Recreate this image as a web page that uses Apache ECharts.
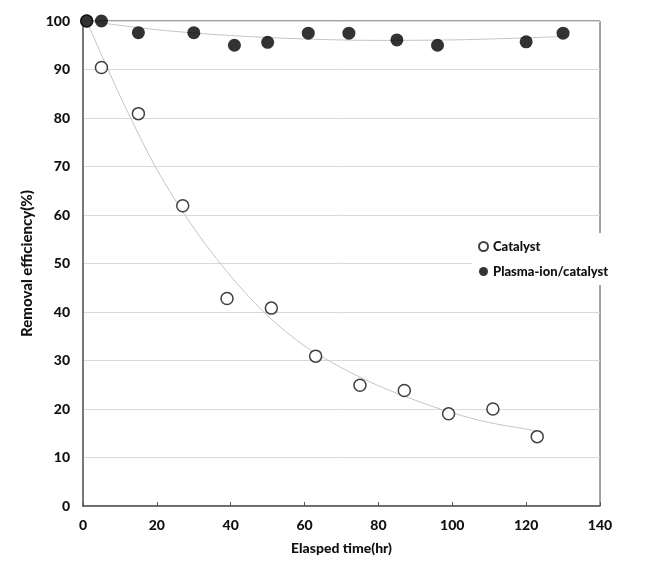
<!DOCTYPE html>
<html>
<head>
<meta charset="utf-8">
<script src="https://cdn.jsdelivr.net/npm/echarts@6/dist/echarts.min.js"></script>
<style>
    html, body { margin: 0; padding: 0; background: #fff; }
    #chart { width: 653px; height: 572px; }
</style>
</head>
<body>
<div id="chart"></div>
<script>
// points
const catalystTime = [1, 5, 15, 27, 39, 51, 63, 75, 87, 99, 111, 123]
const catalystEff = [100, 90.4, 80.9, 61.9, 42.8, 40.8, 30.9, 24.9, 23.8, 19.0, 20.0, 14.3]

const plasmaTime = [1, 5, 15, 30, 41, 50, 61, 72, 85, 96, 120, 130]
const plasmaEff = [100, 100, 97.6, 97.6, 95.0, 95.6, 97.5, 97.5, 96.1, 95.0, 95.7, 97.5]

// grey trend lines, also
const catalystTrendTime = [1, 10, 20, 30, 40, 50, 60, 70, 80, 90, 100, 110, 123]
const catalystTrendEff = [100, 84.6, 69.4, 57.3, 47.4, 39.2, 33, 28.5, 24.8, 21.8, 19.2, 17.2, 15.5]
const plasmaTrendTime = [1, 20, 40, 60, 80, 100, 115, 130]
const plasmaTrendEff = [100, 98.2, 97.0, 96.3, 96.0, 96.1, 96.4, 96.8]

const xTicks = [0, 20, 40, 60, 80, 100, 120, 140]
const yTicks = [0, 10, 20, 30, 40, 50, 60, 70, 80, 90, 100]

function pairs(xs, ys) {
    let out = []
    for (let i = 0; i < xs.length; i++) {
        out.push([xs[i], ys[i]])
    }
    return out
}

const fontName = 'Lato, "Open Sans", sans-serif'

let chart = echarts.init(document.getElementById('chart'))

let option = {
    animation: false,
    backgroundColor: '#fff',
    grid: {
        left: 83,
        right: 53,
        top: 21,
        bottom: 66,
        show: true,
        borderColor: '#444',
        borderWidth: 1
    },
    legend: {
        orient: 'vertical',
        left: 472,
        top: 233,
        padding: [7, 6, 7, 6],
        itemGap: 12,
        itemWidth: 9,
        itemHeight: 9,
        backgroundColor: '#fff',
        icon: 'circle',
        data: ['Catalyst', 'Plasma-ion/catalyst'],
        textStyle: {
            fontFamily: fontName,
            fontWeight: 900,
            fontSize: 13,
            color: '#111'
        }
    },
    xAxis: {
        type: 'value',
        min: xTicks[0],
        max: xTicks[xTicks.length - 1],
        interval: 20,
        name: 'Elasped time(hr)',
        nameLocation: 'middle',
        nameGap: 35,
        nameTextStyle: {
            fontFamily: fontName,
            fontWeight: 900,
            fontSize: 14,
            color: '#111'
        },
        axisLine: { lineStyle: { color: '#555', width: 1.5 } },
        axisTick: { show: true, inside: true, length: 4, lineStyle: { color: '#555' } },
        axisLabel: {
            margin: 12,
            fontFamily: fontName,
            fontWeight: 900,
            fontSize: 14,
            color: '#111'
        },
        splitLine: { show: false }
    },
    yAxis: {
        type: 'value',
        min: yTicks[0],
        max: yTicks[yTicks.length - 1],
        interval: 10,
        name: 'Removal efficiency(%)',
        nameLocation: 'middle',
        nameGap: 38,
        nameTextStyle: {
            fontFamily: fontName,
            fontWeight: 900,
            fontSize: 15,
            color: '#111'
        },
        axisLine: { show: true, lineStyle: { color: '#777', width: 2 } },
        axisTick: { show: false },
        axisLabel: {
            margin: 13,
            fontFamily: fontName,
            fontWeight: 900,
            fontSize: 14,
            color: '#111'
        },
        splitLine: { lineStyle: { color: '#d9d9d9', width: 1 } }
    },
    series: [
        {
            name: 'catalyst trend',
            type: 'line',
            smooth: 0.3,
            showSymbol: false,
            silent: true,
            z: 1,
            lineStyle: { color: '#c4c4c4', width: 1 },
            data: pairs(catalystTrendTime, catalystTrendEff)
        },
        {
            name: 'plasma trend',
            type: 'line',
            smooth: 0.3,
            showSymbol: false,
            silent: true,
            z: 1,
            lineStyle: { color: '#c4c4c4', width: 1 },
            data: pairs(plasmaTrendTime, plasmaTrendEff)
        },
        {
            name: 'Catalyst',
            type: 'scatter',
            symbol: 'circle',
            symbolSize: 12,
            z: 3,
            itemStyle: { color: '#fff', borderColor: '#111', borderWidth: 1.5 },
            data: pairs(catalystTime, catalystEff)
        },
        {
            name: 'Plasma-ion/catalyst',
            type: 'scatter',
            symbol: 'circle',
            symbolSize: 13,
            z: 4,
            itemStyle: { color: '#000' },
            data: pairs(plasmaTime, plasmaEff)
        }
    ]
}

chart.setOption(option, true)
</script>
</body>
</html>
